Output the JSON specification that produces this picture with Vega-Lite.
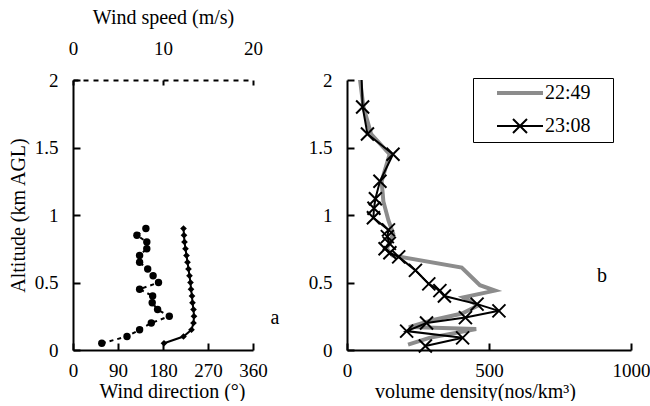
{
  "$schema": "https://vega.github.io/schema/vega-lite/v6.json",
  "background": "white",
  "padding": {"left": 8, "top": 7, "right": 0, "bottom": 0},
  "bounds": "flush",
  "spacing": 94,
  "config": {
    "view": {"stroke": null},
    "font": "Liberation Serif",
    "axis": {
      "domainColor": "black", "domainWidth": 2, "tickColor": "black", "tickWidth": 2,
      "tickSize": -7, "grid": false, "labelFont": "Liberation Serif", "labelFontSize": 19,
      "labelColor": "black", "titleFont": "Liberation Serif", "titleFontSize": 20,
      "titleFontWeight": "normal", "titleColor": "black", "labelPadding": 22,
      "labelFlush": false, "labelOverlap": false
    }
  },
  "datasets": {
    "wind": [
      {"alt": 0.05, "speed": 3.2, "dir": 182},
      {"alt": 0.10, "speed": 6.0, "dir": 221},
      {"alt": 0.15, "speed": 7.4, "dir": 237},
      {"alt": 0.20, "speed": 8.7, "dir": 241},
      {"alt": 0.25, "speed": 10.7, "dir": 242},
      {"alt": 0.30, "speed": 9.4, "dir": 241},
      {"alt": 0.35, "speed": 8.8, "dir": 239},
      {"alt": 0.40, "speed": 8.85, "dir": 238},
      {"alt": 0.45, "speed": 7.4, "dir": 236},
      {"alt": 0.50, "speed": 9.5, "dir": 235},
      {"alt": 0.55, "speed": 8.9, "dir": 233},
      {"alt": 0.60, "speed": 8.3, "dir": 231},
      {"alt": 0.65, "speed": 7.4, "dir": 229},
      {"alt": 0.70, "speed": 7.4, "dir": 227},
      {"alt": 0.75, "speed": 8.2, "dir": 225},
      {"alt": 0.80, "speed": 8.2, "dir": 223},
      {"alt": 0.85, "speed": 7.1, "dir": 222},
      {"alt": 0.90, "speed": 8.1, "dir": 221}
    ],
    "density": [
      {"time": "22:49", "alt": 2.1, "density": 40},
      {"time": "22:49", "alt": 1.8, "density": 58},
      {"time": "22:49", "alt": 1.6, "density": 85},
      {"time": "22:49", "alt": 1.45, "density": 150},
      {"time": "22:49", "alt": 1.25, "density": 122},
      {"time": "22:49", "alt": 1.1, "density": 128},
      {"time": "22:49", "alt": 0.96, "density": 146},
      {"time": "22:49", "alt": 0.86, "density": 163},
      {"time": "22:49", "alt": 0.75, "density": 140},
      {"time": "22:49", "alt": 0.70, "density": 160},
      {"time": "22:49", "alt": 0.61, "density": 404},
      {"time": "22:49", "alt": 0.48, "density": 468},
      {"time": "22:49", "alt": 0.44, "density": 521},
      {"time": "22:49", "alt": 0.39, "density": 410},
      {"time": "22:49", "alt": 0.33, "density": 462},
      {"time": "22:49", "alt": 0.27, "density": 405},
      {"time": "22:49", "alt": 0.22, "density": 300},
      {"time": "22:49", "alt": 0.17, "density": 218},
      {"time": "22:49", "alt": 0.155, "density": 455},
      {"time": "22:49", "alt": 0.09, "density": 290},
      {"time": "22:49", "alt": 0.04, "density": 215},
      {"time": "23:08", "alt": 2.1, "density": 50},
      {"time": "23:08", "alt": 1.8, "density": 55},
      {"time": "23:08", "alt": 1.6, "density": 72},
      {"time": "23:08", "alt": 1.45, "density": 162},
      {"time": "23:08", "alt": 1.25, "density": 116},
      {"time": "23:08", "alt": 1.12, "density": 100},
      {"time": "23:08", "alt": 1.05, "density": 95},
      {"time": "23:08", "alt": 0.98, "density": 93},
      {"time": "23:08", "alt": 0.89, "density": 146},
      {"time": "23:08", "alt": 0.84, "density": 142},
      {"time": "23:08", "alt": 0.79, "density": 149},
      {"time": "23:08", "alt": 0.75, "density": 134},
      {"time": "23:08", "alt": 0.72, "density": 151},
      {"time": "23:08", "alt": 0.69, "density": 182},
      {"time": "23:08", "alt": 0.59, "density": 241},
      {"time": "23:08", "alt": 0.49, "density": 288},
      {"time": "23:08", "alt": 0.44, "density": 327},
      {"time": "23:08", "alt": 0.40, "density": 343},
      {"time": "23:08", "alt": 0.34, "density": 458},
      {"time": "23:08", "alt": 0.29, "density": 535},
      {"time": "23:08", "alt": 0.24, "density": 417},
      {"time": "23:08", "alt": 0.20, "density": 280},
      {"time": "23:08", "alt": 0.14, "density": 210},
      {"time": "23:08", "alt": 0.09, "density": 407},
      {"time": "23:08", "alt": 0.03, "density": 276}
    ],
    "labelsA": [{"label": "a", "dir": 404, "alt": 0.24}],
    "labelsB": [{"label": "b", "density": 898, "alt": 0.55}]
  },
  "hconcat": [
    {
      "width": 180,
      "height": 270,
      "layer": [
        {
          "layer": [
            {
              "data": {"name": "wind"},
              "mark": {"type": "line", "color": "black", "strokeWidth": 2},
              "encoding": {
                "x": {"field": "dir", "type": "quantitative",
                      "scale": {"domain": [0, 360], "nice": false, "zero": false},
                      "axis": {"orient": "bottom", "values": [0, 90, 180, 270, 360], "title": "Wind direction (°)", "labelPadding": 18, "titlePadding": 1, "titleX": 99}},
                "y": {"field": "alt", "type": "quantitative",
                      "scale": {"domain": [0, 2], "nice": false},
                      "axis": {"values": [0, 0.5, 1, 1.5, 2], "format": "~g", "title": "Altitude (km AGL)", "titlePadding": 6}},
                "order": {"field": "alt"}
              }
            },
            {
              "data": {"name": "wind"},
              "mark": {"type": "point", "shape": "diamond", "filled": true, "color": "black", "size": 45, "opacity": 1},
              "encoding": {
                "x": {"field": "dir", "type": "quantitative"},
                "y": {"field": "alt", "type": "quantitative"}
              }
            },
            {
              "data": {"name": "labelsA"},
              "mark": {"type": "text", "fontSize": 20, "font": "Liberation Serif", "color": "black"},
              "encoding": {
                "x": {"field": "dir", "type": "quantitative"},
                "y": {"field": "alt", "type": "quantitative"},
                "text": {"field": "label"}
              }
            }
          ]
        },
        {
          "layer": [
            {
              "data": {"name": "wind"},
              "mark": {"type": "line", "color": "black", "strokeWidth": 2, "strokeDash": [4, 4]},
              "encoding": {
                "x": {"field": "speed", "type": "quantitative",
                      "scale": {"domain": [0, 20], "nice": false, "zero": false},
                      "axis": {"orient": "top", "values": [0, 10, 20], "title": "Wind speed (m/s)", "domainDash": [5, 5], "tickSize": -5, "labelPadding": 27, "titlePadding": 12}},
                "y": {"field": "alt", "type": "quantitative"},
                "order": {"field": "alt"}
              }
            },
            {
              "data": {"name": "wind"},
              "mark": {"type": "circle", "color": "black", "size": 55, "opacity": 1},
              "encoding": {
                "x": {"field": "speed", "type": "quantitative"},
                "y": {"field": "alt", "type": "quantitative"}
              }
            }
          ]
        }
      ],
      "resolve": {"scale": {"x": "independent"}, "axis": {"x": "independent"}}
    },
    {
      "width": 284,
      "height": 270,
      "layer": [
        {
          "data": {"name": "density"},
          "transform": [{"filter": "datum.time === '22:49'"}],
          "mark": {"type": "line", "strokeWidth": 4, "clip": true},
          "encoding": {
            "x": {"field": "density", "type": "quantitative",
                  "scale": {"domain": [0, 1000], "nice": false},
                  "axis": {"values": [0, 500, 1000], "format": "d", "title": "volume density(nos/km³)", "labelPadding": 18, "titlePadding": 1, "titleX": 128}},
            "y": {"field": "alt", "type": "quantitative",
                  "scale": {"domain": [0, 2], "nice": false},
                  "axis": {"values": [0, 0.5, 1, 1.5, 2], "format": "~g", "title": null}},
            "order": {"field": "alt"},
            "color": {"field": "time", "type": "nominal",
                      "scale": {"domain": ["22:49", "23:08"], "range": ["#8c8c8c", "#000000"]},
                      "legend": {
                        "orient": "none", "legendX": 400, "legendY": -2, "title": null,
                        "strokeColor": "black", "padding": 5, "rowPadding": 12,
                        "symbolSize": 400, "symbolOffset": 22, "labelOffset": 25, "labelFontSize": 20,
                        "labelFont": "Liberation Serif", "labelColor": "black",
                        "encode": {"symbols": {"update": {
                          "shape": {"signal": "datum.value === '22:49' ? 'M-1.3,0L3.3,0M9,0' : 'M-1.3,0L3.3,0M0.3,-0.7L1.7,0.7M1.7,-0.7L0.3,0.7M9,0'"},
                          "strokeWidth": {"signal": "datum.value === '22:49' ? 4 : 2"},
                          "size": {"value": 400}
                        }}}
                      }}
          }
        },
        {
          "data": {"name": "density"},
          "transform": [{"filter": "datum.time === '23:08'"}],
          "mark": {"type": "line", "strokeWidth": 2, "clip": true},
          "encoding": {
            "x": {"field": "density", "type": "quantitative"},
            "y": {"field": "alt", "type": "quantitative"},
            "order": {"field": "alt"},
            "color": {"field": "time", "type": "nominal"}
          }
        },
        {
          "data": {"name": "density"},
          "transform": [{"filter": "datum.time === '23:08' && datum.alt <= 2"}],
          "mark": {"type": "point", "shape": "M-1,-1L1,1M1,-1L-1,1", "filled": false, "color": "black", "strokeWidth": 2, "size": 169, "opacity": 1},
          "encoding": {
            "x": {"field": "density", "type": "quantitative"},
            "y": {"field": "alt", "type": "quantitative"}
          }
        },
        {
          "data": {"name": "labelsB"},
          "mark": {"type": "text", "fontSize": 20, "font": "Liberation Serif", "color": "black"},
          "encoding": {
            "x": {"field": "density", "type": "quantitative"},
            "y": {"field": "alt", "type": "quantitative"},
            "text": {"field": "label"}
          }
        }
      ]
    }
  ]
}
